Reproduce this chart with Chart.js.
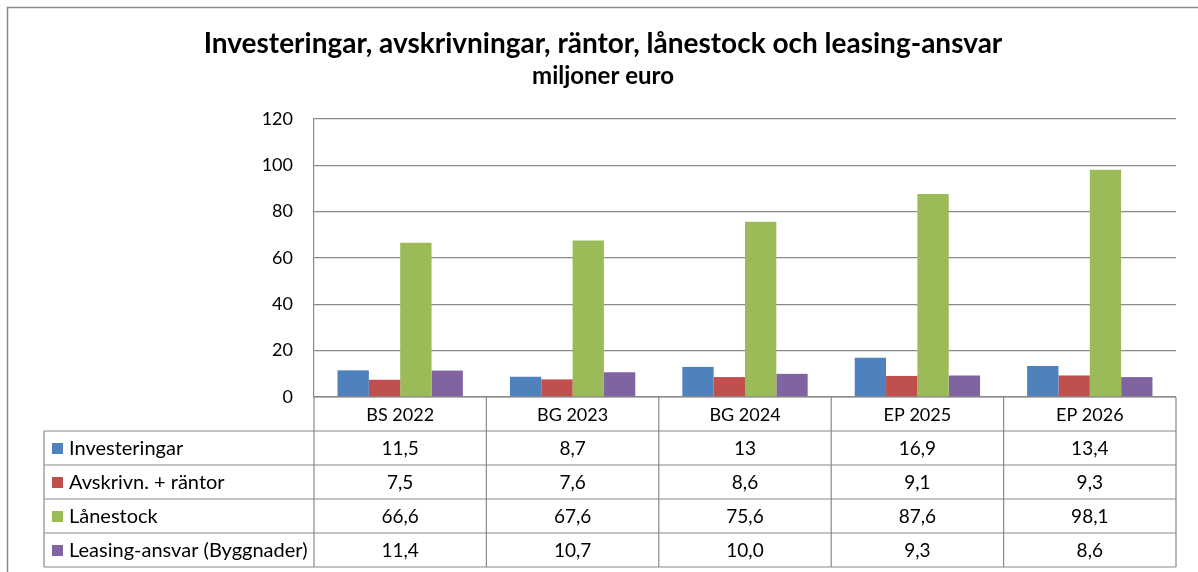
<!DOCTYPE html>
<html>
<head>
<meta charset="utf-8">
<script src="https://cdn.jsdelivr.net/npm/chart.js"></script>
<style>
    body { margin: 0; background: #fff; }
    #wrap { width: 1198px; height: 572px; position: relative; }
</style>
</head>
<body>
<div id="wrap"><canvas id="chart" width="1198" height="572"></canvas></div>
<script>
const categories = ['BS 2022', 'BG 2023', 'BG 2024', 'EP 2025', 'EP 2026']
const seriesNames = ['Investeringar', 'Avskrivn. + räntor', 'Lånestock', 'Leasing-ansvar (Byggnader)']
const investeringar = [11.5, 8.7, 13, 16.9, 13.4]
const avskrivningar = [7.5, 7.6, 8.6, 9.1, 9.3]
const lanestock = [66.6, 67.6, 75.6, 87.6, 98.1]
const leasing = [11.4, 10.7, 10.0, 9.3, 8.6]
const leasingDecimals = 1
const yTicks = [0, 20, 40, 60, 80, 100, 120]

const colors = ['#4F81BD', '#C0504D', '#9BBB59', '#8064A2']
const lineColor = '#8a8a8a'
const font = 'Lato'

function fmt(v, decimals) {
    const s = decimals ? v.toFixed(decimals) : String(v)
    return s.replace('.', ',')
}

// title, outer frame and the data table under the plot
const tablePlugin = {
    id: 'tablePlugin',
    afterDraw(chart) {
        const ctx = chart.ctx
        const x = chart.scales.x
        const area = chart.chartArea
        const step = (x.right - x.left) / categories.length
        const rowH = 34
        const tableLeft = 44
        const headTop = area.bottom
        const datasets = chart.data.datasets

        ctx.save()

        // outer frame
        ctx.strokeStyle = lineColor
        ctx.lineWidth = 1.5
        ctx.beginPath()
        ctx.moveTo(7.5, 572)
        ctx.lineTo(7.5, 7.5)
        ctx.lineTo(1198, 7.5)
        ctx.stroke()

        // titles
        ctx.fillStyle = '#000'
        ctx.textAlign = 'center'
        ctx.textBaseline = 'alphabetic'
        ctx.font = 'bold 28px ' + font
        ctx.fillText('Investeringar, avskrivningar, räntor, lånestock och leasing-ansvar', 603, 53)
        ctx.font = 'bold 24px ' + font
        ctx.fillText('miljoner euro', 603, 84)

        // table grid
        ctx.lineWidth = 1.2
        ctx.strokeStyle = lineColor
        ctx.beginPath()
        ctx.moveTo(x.left, headTop)
        ctx.lineTo(x.right, headTop)
        for (let r = 1; r <= datasets.length + 1; r++) {
            const y = headTop + r * rowH
            ctx.moveTo(tableLeft, y)
            ctx.lineTo(x.right, y)
        }
        const bottom = headTop + (datasets.length + 1) * rowH
        ctx.moveTo(tableLeft, headTop + rowH)
        ctx.lineTo(tableLeft, bottom)
        for (let i = 0; i <= categories.length; i++) {
            const cx = x.left + i * step
            ctx.moveTo(cx, headTop)
            ctx.lineTo(cx, bottom)
        }
        ctx.stroke()

        // header labels
        ctx.font = '18px ' + font
        ctx.fillStyle = '#000'
        ctx.textBaseline = 'middle'
        ctx.textAlign = 'center'
        categories.forEach((c, i) => {
            ctx.fillText(c, x.getPixelForValue(i), headTop + rowH / 2 + 1)
        })

        // rows
        datasets.forEach((ds, r) => {
            const cy = headTop + (r + 1.5) * rowH + 1
            ctx.fillStyle = ds.backgroundColor
            ctx.fillRect(52, cy - 6, 11, 11)
            ctx.fillStyle = '#000'
            ctx.textAlign = 'left'
            ctx.font = '20px ' + font
            ctx.fillText(ds.label, 69, cy)
            ctx.textAlign = 'center'
            ctx.font = '19px ' + font
            ds.data.forEach((v, i) => {
                ctx.fillText(fmt(v, ds.decimals), x.getPixelForValue(i), cy)
            })
        })

        ctx.restore()
    }
}

const data = [investeringar, avskrivningar, lanestock, leasing]

new Chart(document.getElementById('chart'), {
    type: 'bar',
    data: {
        labels: categories,
        datasets: data.map((d, i) => ({
            label: seriesNames[i],
            data: d,
            backgroundColor: colors[i],
            borderWidth: 0,
            categoryPercentage: 0.727,
            barPercentage: 1,
            decimals: i === 3 ? leasingDecimals : 0
        }))
    },
    options: {
        responsive: false,
        animation: false,
        layout: { padding: { top: 119, right: 22, bottom: 175, left: 0 } },
        plugins: {
            legend: { display: false },
            title: { display: false },
            tooltip: { enabled: false }
        },
        scales: {
            x: { display: false },
            y: {
                min: 0,
                max: 120,
                afterBuildTicks(scale) {
                    scale.ticks = yTicks.map(v => ({ value: v }))
                },
                afterFit(scale) {
                    scale.width = 314
                },
                ticks: {
                    color: '#000',
                    padding: 21,
                    font: { family: font, size: 18 }
                },
                grid: { color: lineColor, lineWidth: 1.2, drawTicks: false },
                border: { color: lineColor, width: 1.2 }
            }
        }
    },
    plugins: [tablePlugin]
})
</script>
</body>
</html>
